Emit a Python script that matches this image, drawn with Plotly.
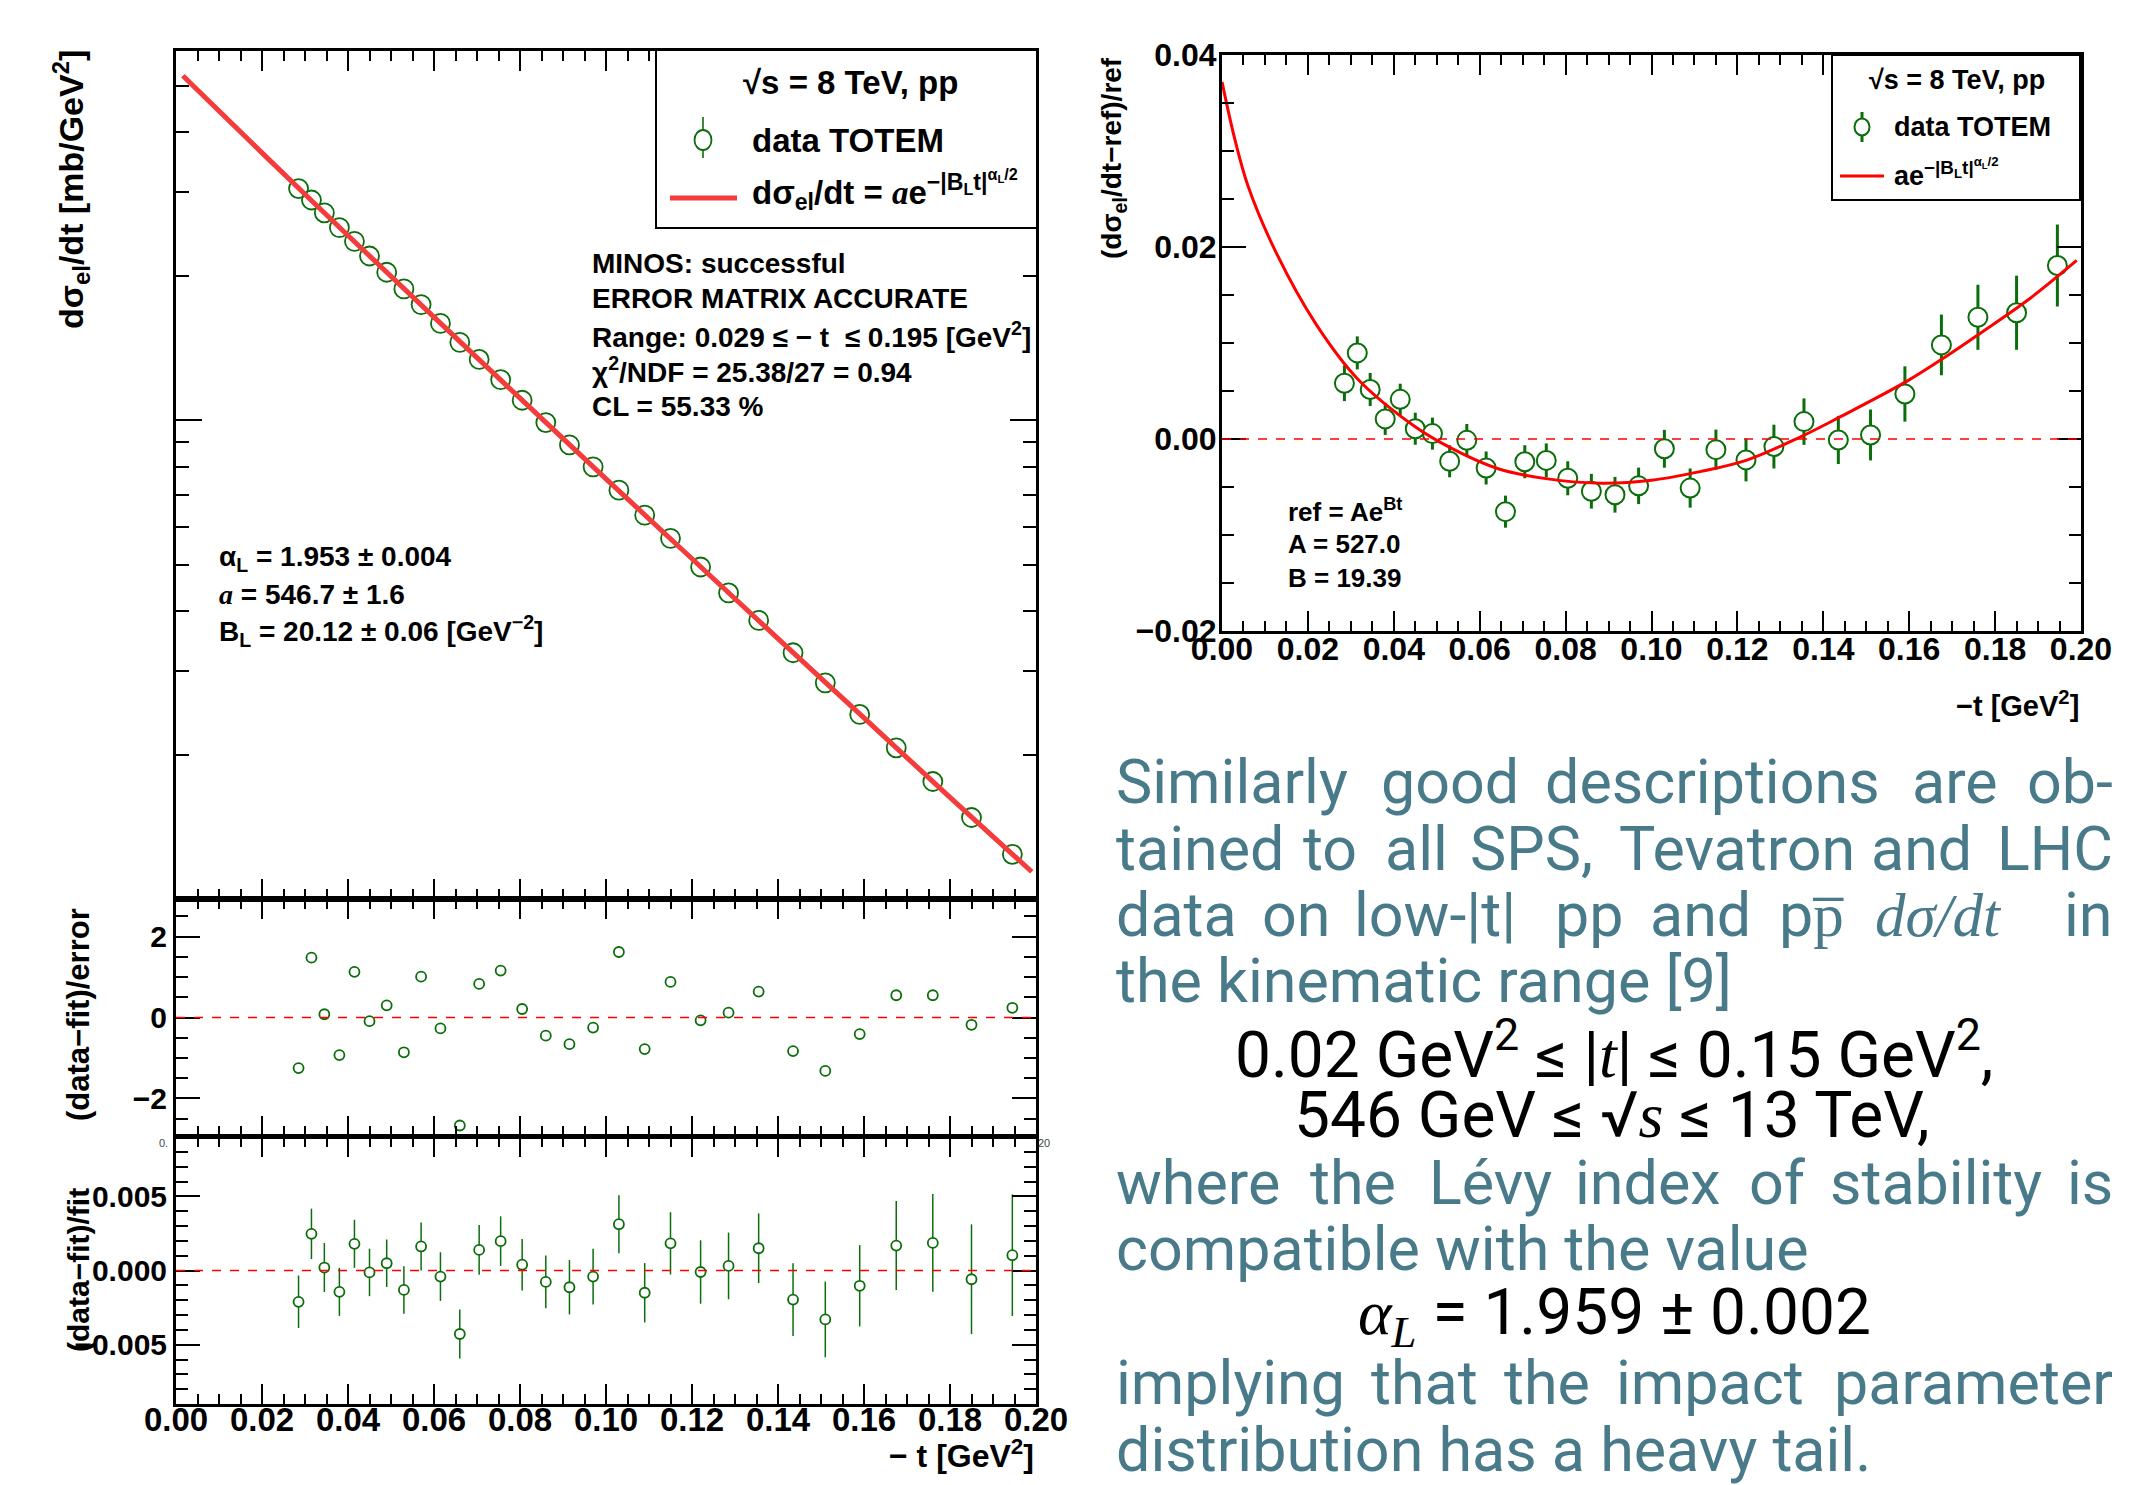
import plotly.graph_objects as go

W, H = 2151, 1485

# ---------------- data ----------------
t_data = [0.0285, 0.0315, 0.0345, 0.0380, 0.0415, 0.0450, 0.0490, 0.0530, 0.0570, 0.0615,
          0.0660, 0.0705, 0.0755, 0.0805, 0.0860, 0.0915, 0.0970, 0.1030, 0.1090, 0.1150,
          0.1220, 0.1285, 0.1355, 0.1435, 0.1510, 0.1590, 0.1675, 0.1760, 0.1850, 0.1945]

dsig = [305.2, 288.8, 271.6, 252.9, 236.7, 220.6, 204.0, 188.3, 174.6, 159.5,
        145.6, 134.1, 121.7, 110.2, 99.0, 88.9, 80.0, 71.5, 63.4, 56.7,
        49.4, 43.6, 38.2, 32.7, 28.3, 24.3, 20.7, 17.6, 14.8, 12.4]
dsig_err = [0.54, 0.49, 0.45, 0.41, 0.38, 0.35, 0.33, 0.30, 0.28, 0.26,
            0.24, 0.22, 0.20, 0.19, 0.18, 0.16, 0.15, 0.14, 0.13, 0.12,
            0.11, 0.10, 0.09, 0.08, 0.07, 0.07, 0.06, 0.06, 0.05, 0.05]

pull = [-1.25, 1.48, 0.08, -0.93, 1.13, -0.09, 0.30, -0.86, 1.01, -0.27,
        -2.67, 0.83, 1.16, 0.21, -0.45, -0.66, -0.25, 1.62, -0.78, 0.88,
        -0.07, 0.12, 0.64, -0.83, -1.32, -0.41, 0.55, 0.55, -0.18, 0.24]

relres = [-0.00211, 0.00247, 0.00020, -0.00144, 0.00180, -0.00013, 0.00049, -0.00131, 0.00162, -0.00041,
          -0.00428, 0.00139, 0.00198, 0.00039, -0.00077, -0.00113, -0.00041, 0.00312, -0.00150, 0.00183,
          -0.00010, 0.00031, 0.00150, -0.00196, -0.00330, -0.00103, 0.00168, 0.00186, -0.00059, 0.00103]
relres_err = [0.00177, 0.00170, 0.00165, 0.00162, 0.00162, 0.00160, 0.00160, 0.00160, 0.00162, 0.00164,
              0.00165, 0.00167, 0.00167, 0.00173, 0.00178, 0.00183, 0.00188, 0.00195, 0.00200, 0.00210,
              0.00214, 0.00225, 0.00235, 0.00245, 0.00255, 0.00274, 0.00300, 0.00330, 0.00370, 0.00410]

refdev = [0.00581, 0.00897, 0.00516, 0.00209, 0.00413, 0.00107, 0.00056, -0.00232, -0.00014, -0.00302,
          -0.00757, -0.00237, -0.00223, -0.00409, -0.00544, -0.00581, -0.00488, -0.00102, -0.00511, -0.00111,
          -0.00218, -0.00079, 0.00181, -0.00010, 0.00042, 0.00469, 0.00980, 0.01268, 0.01315, 0.01807]
refdev_err = [0.00186, 0.00172, 0.00172, 0.00167, 0.00163, 0.00167, 0.00167, 0.00167, 0.00170, 0.00172,
              0.00167, 0.00172, 0.00177, 0.00177, 0.00181, 0.00186, 0.00190, 0.00197, 0.00204, 0.00209,
              0.00223, 0.00228, 0.00242, 0.00251, 0.00265, 0.00288, 0.00316, 0.00339, 0.00386, 0.00427]

fit_t = [0.0016, 0.02, 0.04, 0.06, 0.08, 0.10, 0.12, 0.14, 0.16, 0.18, 0.199]
fit_dsig = [525.0, 362.4, 243.5, 164.4, 111.3, 75.5, 51.4, 35.0, 23.9, 16.3, 11.4]

curve_t = [0.0, 0.003, 0.0061, 0.0123, 0.0217, 0.0317, 0.0449, 0.0527, 0.0643, 0.075,
           0.088, 0.100, 0.1113, 0.1222, 0.1346, 0.1439, 0.1594, 0.1679, 0.1765, 0.1877, 0.199]
curve_dev = [0.0372, 0.0312, 0.0263, 0.0197, 0.0121, 0.0062, 0.0013, -0.0008, -0.0031, -0.0041,
             -0.0046, -0.0043, -0.0034, -0.0022, 0.0002, 0.0023, 0.0060, 0.0084, 0.0110, 0.0145, 0.0186]

# ---------------- styles ----------------
GREEN = "#0b6e0b"
FITRED = "#f43c3c"
RED = "#ff0000"
TEAL = "#487a8a"
SANS = "Liberation Sans"
TXT = "Roboto"


def px(x):
    return x / W


def py(y):
    return 1 - y / H


fig = go.Figure()

# main panel
fig.add_trace(go.Scatter(x=t_data, y=dsig, mode="markers", xaxis="x", yaxis="y",
                         error_y=dict(type="data", array=dsig_err, color=GREEN, thickness=1.5, width=0),
                         marker=dict(symbol="circle-open", size=19, color=GREEN, line=dict(width=1.8)),
                         showlegend=False))
fig.add_trace(go.Scatter(x=fit_t, y=fit_dsig, mode="lines", xaxis="x", yaxis="y",
                         line=dict(color=FITRED, width=5, shape="spline"), showlegend=False))

# (data-fit)/error
fig.add_trace(go.Scatter(x=t_data, y=pull, mode="markers", xaxis="x2", yaxis="y2",
                         marker=dict(symbol="circle-open", size=10, color=GREEN, line=dict(width=1.8)),
                         showlegend=False))
# (data-fit)/fit
fig.add_trace(go.Scatter(x=t_data, y=relres, mode="markers", xaxis="x3", yaxis="y3",
                         error_y=dict(type="data", array=relres_err, color=GREEN, thickness=1.5, width=0),
                         marker=dict(symbol="circle", size=10, color="white", line=dict(width=1.8, color=GREEN)),
                         showlegend=False))
# right panel
fig.add_trace(go.Scatter(x=t_data, y=refdev, mode="markers", xaxis="x4", yaxis="y4",
                         error_y=dict(type="data", array=refdev_err, color=GREEN, thickness=3, width=0),
                         marker=dict(symbol="circle", size=19, color="white", line=dict(width=2, color=GREEN)),
                         showlegend=False))
fig.add_trace(go.Scatter(x=curve_t, y=curve_dev, mode="lines", xaxis="x4", yaxis="y4",
                         line=dict(color=RED, width=3, shape="spline"), showlegend=False))


def xax(left, right, anchor, labels, size=33, standoff=-15):
    return dict(domain=[px(left), px(right)], anchor=anchor, range=[0, 0.2], automargin=False,
                tickmode="linear", tick0=0, dtick=0.02, tickformat=".2f",
                showticklabels=labels, ticks="inside", ticklen=20, tickwidth=2, tickcolor="black",
                ticklabelstandoff=standoff,
                mirror="allticks", showline=True, linewidth=3, linecolor="black",
                showgrid=False, zeroline=False,
                minor=dict(dtick=0.005, tick0=0, ticks="inside", ticklen=10, tickwidth=2, tickcolor="black"),
                tickfont=dict(family=SANS, size=size, color="black", weight="bold"))


def yax(top, bottom, anchor, rng, dtick, fmt, minor, labels=True, size=30, standoff=0):
    return dict(domain=[py(bottom), py(top)], anchor=anchor, range=rng, automargin=False,
                tickmode="linear", tick0=0, dtick=dtick, tickformat=fmt,
                showticklabels=labels, ticks="inside", ticklen=24, tickwidth=2, tickcolor="black",
                ticklabelstandoff=standoff,
                mirror="allticks", showline=True, linewidth=3, linecolor="black",
                showgrid=False, zeroline=False,
                minor=dict(dtick=minor, tick0=0, ticks="inside", ticklen=12, tickwidth=2, tickcolor="black"),
                tickfont=dict(family=SANS, size=size, color="black", weight="bold"))


L, R = 176, 1036
layout = dict(
    width=W, height=H, autosize=False,
    margin=dict(l=0, r=0, t=0, b=0, autoexpand=False),
    paper_bgcolor="white", plot_bgcolor="white",
    showlegend=False,
    xaxis=xax(L, R, "y", False),
    yaxis=dict(domain=[py(899), py(51)], anchor="x", type="log", range=[1, 2.772], automargin=False,
               tickmode="array", tickvals=[10, 100], showticklabels=False,
               ticks="inside", ticklen=26, tickwidth=2, tickcolor="black",
               mirror="allticks", showline=True, linewidth=3, linecolor="black",
               showgrid=False, zeroline=False,
               minor=dict(dtick="D1", ticks="inside", ticklen=13, tickwidth=2, tickcolor="black")),
    xaxis2=xax(L, R, "y2", False),
    yaxis2=yax(899, 1136, "x2", [-2.93, 2.93], 2, "d", 0.5),
    xaxis3=xax(L, R, "y3", True, size=33, standoff=-16),
    yaxis3=yax(1137, 1404, "x3", [-0.009, 0.009], 0.005, ".3f", 0.001),
    xaxis4=xax(1222, 2081, "y4", True, size=32, standoff=-12),
    yaxis4=yax(55, 631, "x4", [-0.02, 0.04], 0.02, ".2f", 0.005, size=32, standoff=-4),
)
fig.update_layout(**layout)

shapes = []
# zero lines
for xa, ya in (("x2", "y2"), ("x3", "y3"), ("x4", "y4")):
    shapes.append(dict(type="line", xref=xa, yref=ya, x0=0, x1=0.2, y0=0, y1=0,
                       line=dict(color=RED, width=1.6, dash="dash")))


def rect(x0, y0, x1, y1):
    return dict(type="rect", xref="paper", yref="paper", x0=px(x0), x1=px(x1), y0=py(y1), y1=py(y0),
                line=dict(color="black", width=2), fillcolor="white", layer="above")


def seg(x0, y0, x1, y1, color, width):
    return dict(type="line", xref="paper", yref="paper", x0=px(x0), x1=px(x1), y0=py(y0), y1=py(y1),
                line=dict(color=color, width=width), layer="above")


def circ(cx, cy, rx, ry, width):
    return dict(type="circle", xref="paper", yref="paper", x0=px(cx - rx), x1=px(cx + rx),
                y0=py(cy + ry), y1=py(cy - ry), line=dict(color=GREEN, width=width),
                fillcolor="white", layer="above")


# left legend
shapes.append(rect(656, 50, 1037, 228))
shapes.append(seg(703, 117, 703, 158, GREEN, 1.6))
shapes.append(circ(703, 140, 8.5, 10, 1.8))
shapes.append(seg(670, 198, 737, 198, FITRED, 5))
# right legend
shapes.append(rect(1832, 55, 2080, 200))
shapes.append(seg(1862, 112, 1862, 142, GREEN, 3))
shapes.append(circ(1862, 127, 7.5, 8.5, 2))
shapes.append(seg(1840, 176, 1884, 176, RED, 3))
fig.update_layout(shapes=shapes)

anns = []


def ann(text, x, y, size, color="black", xanchor="left", yanchor="middle", family=SANS, angle=0):
    anns.append(dict(text=text, x=px(x), y=py(y), xref="paper", yref="paper", showarrow=False,
                     xanchor=xanchor, yanchor=yanchor, textangle=angle,
                     font=dict(family=family, size=size, color=color)))


ITA_A = '<span style="font-family:Liberation Serif"><i>a</i></span>'
EXPO = "<sup>−|B<sub>L</sub>t|<sup>α<sub>L</sub>/2</sup></sup>"

# axis titles
ann("<b>dσ<sub>el</sub>/dt [mb/GeV<sup>2</sup>]</b>", 71, 190, 34, xanchor="center", angle=-90)
ann("<b>(data−fit)/error</b>", 78, 1015, 31, xanchor="center", angle=-90)
ann("<b>(data−fit)/fit</b>", 78, 1270, 30, xanchor="center", angle=-90)
ann("<b>− t [GeV<sup>2</sup>]</b>", 1036, 1454, 32, xanchor="right")
ann("<b>(dσ<sub>el</sub>/dt−ref)/ref</b>", 1114, 158, 28, xanchor="center", angle=-90)
ann("<b>−t [GeV<sup>2</sup>]</b>", 2081, 704, 29, xanchor="right")

# tiny ROOT artefact labels
ann("0.", 170, 1143, 11, color="#444", xanchor="right")
ann("20", 1036, 1143, 11, color="#444", xanchor="left")

# left legend text
ann("<b>√s = 8 TeV, pp</b>", 850, 83, 33, xanchor="center")
ann("<b>data TOTEM</b>", 750, 140, 33)
ann("<b>dσ<sub>el</sub>/dt = " + ITA_A + "e" + EXPO + "</b>", 750, 190, 33)

# right legend text
ann("<b>√s = 8 TeV, pp</b>", 1957, 80, 27, xanchor="center")
ann("<b>data TOTEM</b>", 1892, 127, 27)
ann("<b>ae" + EXPO + "</b>", 1892, 172, 27)

# fit statistics
stats = ["MINOS: successful", "ERROR MATRIX ACCURATE",
         "Range: 0.029 ≤ − t  ≤ 0.195 [GeV<sup>2</sup>]",
         "χ<sup>2</sup>/NDF = 25.38/27 = 0.94", "CL = 55.33 %"]
for i, s in enumerate(stats):
    ann("<b>" + s + "</b>", 590, 263 + i * 35.8, 28)

params = ["α<sub>L</sub> = 1.953 ± 0.004", ITA_A + " = 546.7 ± 1.6",
          "B<sub>L</sub> = 20.12 ± 0.06 [GeV<sup>−2</sup>]"]
for i, s in enumerate(params):
    ann("<b>" + s + "</b>", 217, 558 + i * 36.5, 28)

refs = ["ref = Ae<sup>Bt</sup>", "A = 527.0", "B = 19.39"]
for i, s in enumerate(refs):
    ann("<b>" + s + "</b>", 1286, 510 + i * 34, 26)

# ---------------- slide text ----------------
FS = 61
FM = 64
RIGHT_EDGE = 2115
SERIF_I = '<span style="font-family:Liberation Serif"><i>{}</i></span>'


def words(items, y):
    for k, (w, x) in enumerate(items):
        if k == len(items) - 1:
            ann(w, RIGHT_EDGE, y, FS, color=TEAL, xanchor="right", family=TXT)
        else:
            ann(w, x, y, FS, color=TEAL, family=TXT)


words([("Similarly", 1114), ("good", 1379), ("descriptions", 1543), ("are", 1910), ("ob-", 2022)], 782)
words([("tained", 1114), ("to", 1301), ("all", 1383), ("SPS,", 1468), ("Tevatron", 1617),
       ("and", 1869), ("LHC", 1998)], 849)
words([("data", 1114), ("on", 1260), ("low-|t|", 1352), ("pp", 1553), ("and", 1648), ("pp̅", 1777),
       (SERIF_I.format("dσ/dt"), 1873), ("in", 2060)], 915)
ann("the kinematic range [9]", 1114, 981, FS, color=TEAL, family=TXT)
ann("0.02 GeV<sup>2</sup> ≤ |" + SERIF_I.format("t") + "| ≤ 0.15 GeV<sup>2</sup>,",
    1614, 1050, FM, xanchor="center", family=TXT)
ann("546 GeV ≤ √" + SERIF_I.format("s") + " ≤ 13 TeV,",
    1612, 1115, FM, xanchor="center", family=TXT)
words([("where", 1114), ("the", 1308), ("Lévy", 1427), ("index", 1573), ("of", 1747),
       ("stability", 1828), ("is", 2080)], 1183)
ann("compatible with the value", 1114, 1249, FS, color=TEAL, family=TXT)
ann(SERIF_I.format("α<sub>L</sub>") + " = 1.959 ± 0.002",
    1614, 1316, FM, xanchor="center", family=TXT)
words([("implying", 1114), ("that", 1369), ("the", 1502), ("impact", 1614), ("parameter", 1828)], 1383)
ann("distribution has a heavy tail.", 1114, 1450, FS, color=TEAL, family=TXT)

fig.update_layout(annotations=anns)

fig.write_html(
    "out.html",
    config={"displayModeBar": False},
    post_script="document.body.style.margin='0px';document.body.style.padding='0px';"
                "document.body.style.overflow='hidden';",
)
